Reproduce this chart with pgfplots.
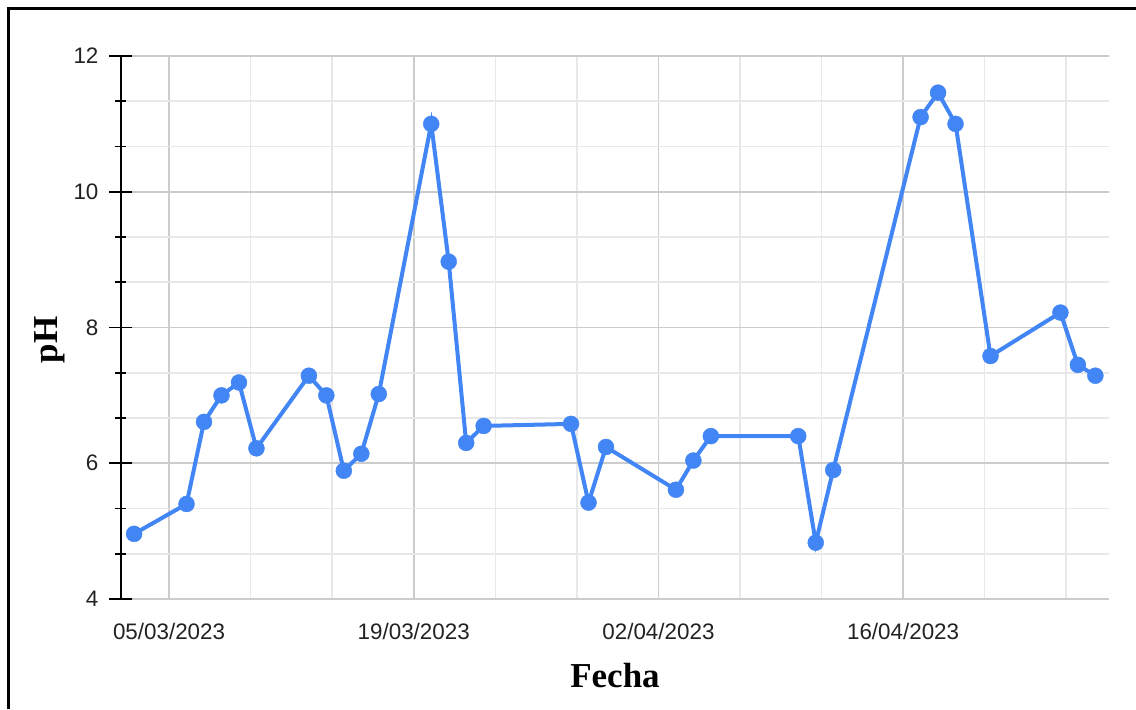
\documentclass[border=0pt]{standalone}
\usepackage{pgfplots}
\pgfplotsset{compat=1.18}
\usepackage{fontspec}
\setmainfont{Liberation Sans}
\newfontfamily\serifb{Liberation Serif}
\definecolor{gblue}{HTML}{4285F4}
\definecolor{majgrid}{HTML}{CCCCCC}
\definecolor{mingrid}{HTML}{E8E8E8}
\definecolor{ticktxt}{HTML}{222222}
\begin{document}
\begin{tikzpicture}
\useasboundingbox (0,0) rectangle (568pt,-354.5pt);
\draw[line width=1.3pt] (4.25pt,-354.5pt) -- (4.25pt,-4.35pt) -- (568pt,-4.35pt);
\begin{axis}[
  at={(60.5pt,-28pt)}, anchor=north west,
  width=494pt, height=271.5pt, scale only axis,
  xmin=-2.75, xmax=53.78, ymin=4, ymax=12,
  xtick={0,14,28,42},
  xticklabels={05/03/2023,19/03/2023,02/04/2023,16/04/2023},
  minor xtick={4.6667,9.3333,18.6667,23.3333,32.6667,37.3333,46.6667,51.3333},
  ytick={4,6,8,10,12},
  minor ytick={4.6667,5.3333,6.6667,7.3333,8.6667,9.3333,10.6667,11.3333},
  grid=both,
  major grid style={draw=majgrid, line width=0.8pt},
  minor grid style={draw=mingrid, line width=0.8pt},
  axis line style={draw=none},
  xtick style={draw=none},
  ytick pos=left,
  tick align=center,
  major tick length=11.5pt,
  minor tick length=5.5pt,
  ytick style={draw=black, line width=0.9pt},
  /pgf/number format/assume math mode=true,
  ticklabel style={font=\fontsize{11.2}{13}\selectfont, text=ticktxt},
  xticklabel style={yshift=-3pt},
  yticklabel style={anchor=east, xshift=-2pt},
  xlabel={\serifb\bfseries Fecha},
  ylabel={\serifb\bfseries pH},
  label style={font=\fontsize{17.5}{20}\selectfont},
  xlabel style={at={(axis description cs:0.5,-0.14)}, anchor=center},
  ylabel style={at={(axis description cs:-0.072,0.477)}, anchor=center},
  clip=false,
]
\addplot[gblue, line width=2pt, mark=*, mark size=4pt, mark options={fill=gblue, draw=gblue, line width=0.2pt}] table {
x y
-2 4.96
1 5.40
2 6.61
3 7.00
4 7.19
5 6.22
8 7.29
9 7.00
10 5.89
11 6.14
12 7.02
15 11.00
16 8.97
17 6.30
18 6.55
23 6.58
24 5.42
25 6.24
29 5.61
30 6.04
31 6.40
36 6.40
37 4.83
38 5.90
43 11.10
44 11.46
45 11.00
47 7.58
51 8.22
52 7.45
53 7.29
};
\draw[black, line width=1pt] (rel axis cs:0,0) -- (rel axis cs:0,1);
\end{axis}
\end{tikzpicture}
\end{document}
